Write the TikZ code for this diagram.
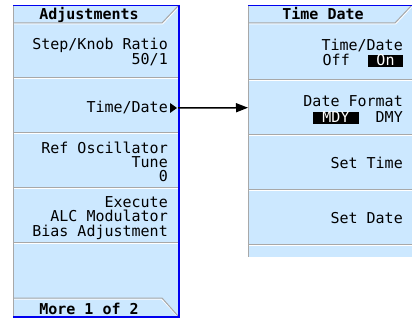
\documentclass[tikz,border=0pt]{standalone}
\usepackage{fontspec}
\setmonofont{DejaVu Sans Mono}
\usetikzlibrary{arrows.meta}
\definecolor{panel}{HTML}{CCE8FF}
\definecolor{edgeblue}{HTML}{0000F0}
\definecolor{sepgray}{HTML}{A8A8A8}
\begin{document}
\begin{tikzpicture}[x=1pt,y=-1pt,
  txtbox/.style={inner sep=0pt, text height=10.5pt, text depth=1pt},
  lbl/.style={txtbox, font=\fontsize{15}{15}\selectfont\ttfamily, anchor=base east},
  ttl/.style={txtbox, font=\fontsize{15}{15}\selectfont\ttfamily\bfseries, anchor=base},
  inv/.style={txtbox, font=\fontsize{15}{15}\selectfont\ttfamily, text=white, anchor=base},
  sep/.style={draw=sepgray, line width=1pt},
  hil/.style={draw=white, line width=1pt},
  blueedge/.style={draw=edgeblue, line width=2pt}]
\useasboundingbox (0,0) rectangle (412,320);
% ---------- left panel ----------
\fill[panel] (13,5) rectangle (180,318);
\draw[sep] (13.5,5) -- (13.5,318);
\foreach \y in {78,133,188,243} {
  \draw[sep] (14,\y) -- (178,\y);
  \draw[hil] (14,\y+1) -- (178,\y+1);
}
\draw[hil] (14,24) -- (162.5,24) -- (178.5,7);
\draw[sep] (14,23) -- (162,23) -- (178,6);
\draw[hil] (14,299) -- (161.5,299) -- (177.5,316);
\draw[sep] (14,298) -- (162,298) -- (178,316);
\draw[edgeblue, line width=1.5pt] (13,5.5) -- (180,5.5);
\draw[blueedge] (179,5) -- (179,318);
\draw[blueedge] (13,317) -- (180,317);
% texts left
\node[ttl] (adj) at (89,20) {Adjustments};
\node[lbl] (skr1) at (168,50) {Step/Knob Ratio};
\node[lbl] (skr2) at (168,65) {50/1};
\node[lbl] (tdl) at (168,113) {Time/Date};
\fill (170,103) -- (177,108) -- (170,113) -- cycle;
\coordinate (tip) at (178,108);
\node[lbl] (ro1) at (168,154) {Ref Oscillator};
\node[lbl] (ro2) at (168,168) {Tune};
\node[lbl] (ro3) at (168,182) {0};
\node[lbl] (ex1) at (168,208) {Execute};
\node[lbl] (ex2) at (168,222) {ALC Modulator};
\node[lbl] (ex3) at (168,237) {Bias Adjustment};
\node[ttl] (more) at (89,314) {More 1 of 2};
% ---------- right panel ----------
\fill[panel] (248,5) rectangle (412,257);
\draw[sep] (248.5,5) -- (248.5,257);
\foreach \y in {80,135,190,245} {
  \draw[sep] (249,\y) -- (412,\y);
  \draw[hil] (249,\y+1) -- (412,\y+1);
}
\draw[hil] (249,24) -- (395.5,24) -- (411.5,7);
\draw[sep] (249,23) -- (395,23) -- (411,6);
\draw[edgeblue, line width=1.5pt] (248,5.5) -- (412,5.5);
\node[inner sep=0pt, minimum width=164pt, minimum height=55pt, anchor=north west] (dfbtn) at (248,80) {};
% texts right
\node[ttl] (tdt) at (323,20) {Time Date};
\node[lbl] (td1) at (403,51) {Time/Date};
\node[lbl] (off) at (350,66) {Off};
\fill (368,55) rectangle (403,67);
\node[inv] (on) at (385.5,66) {On};
\node[lbl] (df1) at (403,107) {Date Format};
\fill (313,112) rectangle (359,124);
\node[inv] (mdy) at (336,123) {MDY};
\node[lbl] (dmy) at (403,123) {DMY};
\node[lbl] (st) at (403,169) {Set Time};
\node[lbl] (sd) at (403,224) {Set Date};
% ---------- connector ----------
\draw[line width=1.5pt, -{Triangle[length=12pt,width=9pt]}] (tip) -- (dfbtn.west);
\end{tikzpicture}
\end{document}
